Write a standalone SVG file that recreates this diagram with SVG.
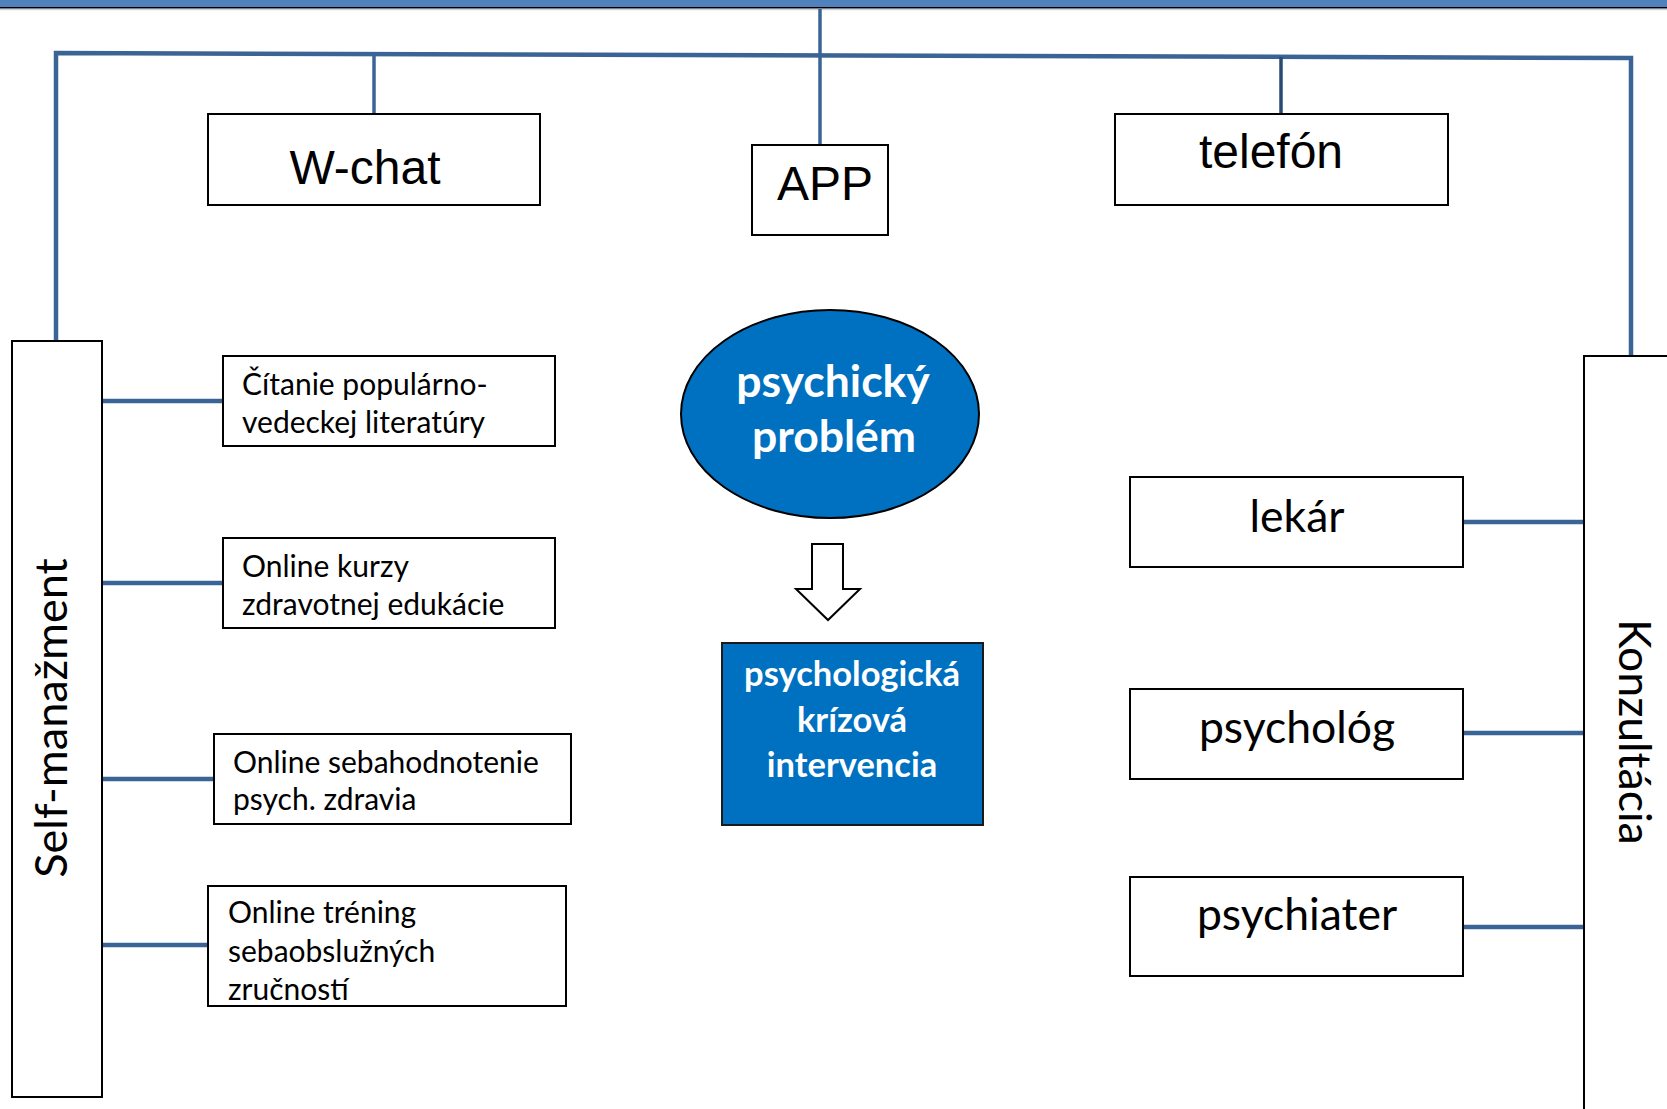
<svg xmlns="http://www.w3.org/2000/svg" width="1667" height="1109" viewBox="0 0 1667 1109">
<style>
.box{fill:#fff;stroke:#000;stroke-width:2}
.conn{fill:none;stroke:#3A6496;stroke-width:4.5}
.vconn{fill:none;stroke:#3A6496;stroke-width:3.5}
.arial{font-family:"Liberation Sans",Arial,sans-serif;font-size:48px;fill:#000}
.cal{font-family:Lato,"Open Sans",sans-serif;fill:#000}
.sm{font-size:30px}
.big{font-size:44.5px}
.wb{font-family:Lato,"Open Sans",sans-serif;font-weight:bold;fill:#fff}
</style>
<rect x="0" y="0" width="1667" height="7" fill="#4F81BD"/>
<line x1="0" y1="7.8" x2="1667" y2="7.8" stroke="#000" stroke-width="1.6"/>
<line x1="0" y1="9.6" x2="1667" y2="9.6" stroke="#C9D3E0" stroke-width="1.2"/>
<g id="connectors">
<polyline class="conn" points="56,340 56,53 1631,58 1631,355"/>
<line class="vconn" x1="374" y1="54" x2="374" y2="114"/>
<line class="vconn" x1="820" y1="9" x2="820" y2="145"/>
<line class="vconn" x1="1281" y1="57" x2="1281" y2="114" style="stroke:#2A4A70"/>
<line class="conn" x1="102" y1="401" x2="223" y2="401"/>
<line class="conn" x1="102" y1="583" x2="223" y2="583"/>
<line class="conn" x1="102" y1="779" x2="214" y2="779"/>
<line class="conn" x1="102" y1="945" x2="208" y2="945"/>
<line class="conn" x1="1463" y1="522" x2="1584" y2="522"/>
<line class="conn" x1="1463" y1="733" x2="1584" y2="733"/>
<line class="conn" x1="1463" y1="927" x2="1584" y2="927"/>
</g>
<g id="wchat">
<rect class="box" x="208" y="114" width="332" height="91"/>
<text class="arial" x="365" y="184" text-anchor="middle">W-chat</text>
</g>
<g id="app">
<rect class="box" x="752" y="145" width="136" height="90"/>
<text class="arial" x="825" y="200" text-anchor="middle">APP</text>
</g>
<g id="telefon">
<rect class="box" x="1115" y="114" width="333" height="91"/>
<text class="arial" x="1271" y="168" text-anchor="middle">telefón</text>
</g>
<g id="selfmanazment">
<rect class="box" x="12" y="341" width="90" height="756"/>
<text class="cal" font-size="45" transform="translate(67,718) rotate(-90)" text-anchor="middle">Self-manažment</text>
</g>
<g id="konzultacia">
<rect class="box" x="1584" y="356" width="100" height="770"/>
<text class="cal" font-size="44.5" transform="translate(1619,732) rotate(90)" text-anchor="middle">Konzultácia</text>
</g>
<g id="citanie">
<rect class="box" x="223" y="356" width="332" height="90"/>
<text class="cal sm" x="242" y="395">Čítanie populárno-</text>
<text class="cal sm" x="242" y="433">vedeckej literatúry</text>
</g>
<g id="kurzy">
<rect class="box" x="223" y="538" width="332" height="90"/>
<text class="cal sm" x="242" y="577">Online kurzy</text>
<text class="cal sm" x="242" y="615">zdravotnej edukácie</text>
</g>
<g id="sebahodnotenie">
<rect class="box" x="214" y="734" width="357" height="90"/>
<text class="cal sm" x="233" y="773">Online sebahodnotenie</text>
<text class="cal sm" x="233" y="810">psych. zdravia</text>
</g>
<g id="trening">
<rect class="box" x="208" y="886" width="358" height="120"/>
<text class="cal sm" x="228" y="923">Online tréning</text>
<text class="cal sm" x="228" y="962">sebaobslužných</text>
<text class="cal sm" x="228" y="1000">zručností</text>
</g>
<g id="problem">
<ellipse cx="830" cy="414" rx="149" ry="104" fill="#0070C0" stroke="#000" stroke-width="2"/>
<text class="wb" font-size="44.5" x="833" y="397" text-anchor="middle">psychický</text>
<text class="wb" font-size="44.5" x="834" y="452" text-anchor="middle">problém</text>
</g>
<g id="arrow">
<polygon points="812,544 843,544 843,589 860,589 828,620 796,589 812,589" fill="#fff" stroke="#000" stroke-width="2"/>
</g>
<g id="intervencia">
<rect x="722" y="643" width="261" height="182" fill="#0070C0" stroke="#1a1a1a" stroke-width="2"/>
<text class="wb" font-size="34.5" x="852" y="686" text-anchor="middle">psychologická</text>
<text class="wb" font-size="34.5" x="852" y="732" text-anchor="middle">krízová</text>
<text class="wb" font-size="34.5" x="852" y="777" text-anchor="middle">intervencia</text>
</g>
<g id="lekar">
<rect class="box" x="1130" y="477" width="333" height="90"/>
<text class="cal big" x="1297" y="532" text-anchor="middle">lekár</text>
</g>
<g id="psycholog">
<rect class="box" x="1130" y="689" width="333" height="90"/>
<text class="cal big" x="1297" y="743" text-anchor="middle">psychológ</text>
</g>
<g id="psychiater">
<rect class="box" x="1130" y="877" width="333" height="99"/>
<text class="cal big" x="1297" y="930" text-anchor="middle">psychiater</text>
</g>
</svg>
